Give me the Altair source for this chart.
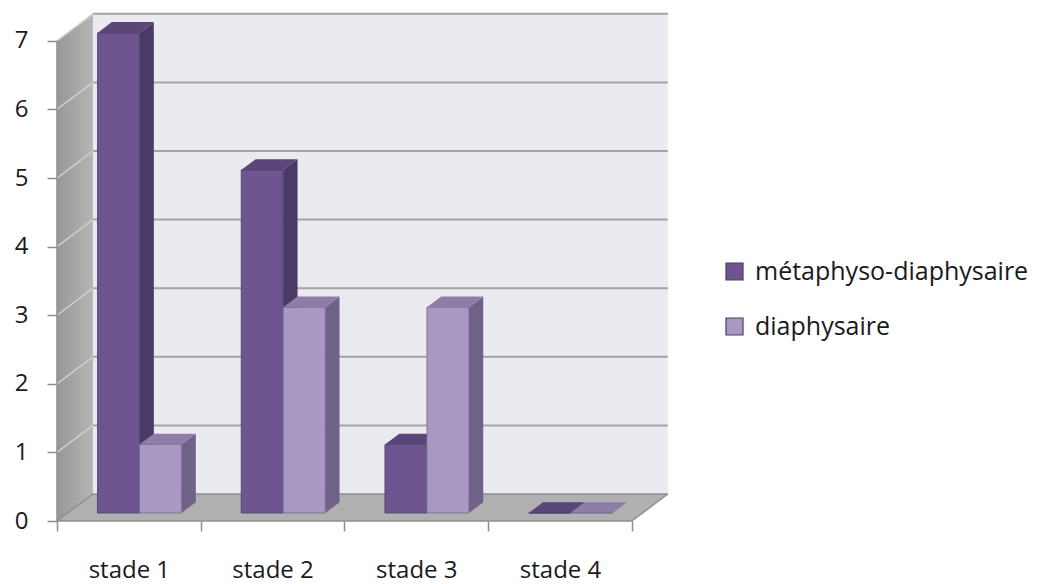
import json
import altair as alt
import pandas as pd

# ---- data ----
categories = ["stade 1", "stade 2", "stade 3", "stade 4"]
series = ["métaphyso-diaphysaire", "diaphysaire"]
met_values = [7, 5, 1, 0]
dia_values = [1, 3, 3, 0]
y_ticks = [0, 1, 2, 3, 4, 5, 6, 7]

# ---- style ----
front_colors = ["#6D5590", "#A999C2"]
side_colors = ["#4B3A64", "#6F6287"]
top_colors = ["#5B4679", "#8D7EA8"]
stroke_colors = ["#4E3C68", "#7A6C94"]
FONT = "Open Sans"
FS = 24

# pseudo-3D geometry (data units: 1 category wide on x, value units on y)
DX, DY = 0.25, 0.394      # wall depth vector
F0, F1 = 0.295, 0.695     # bar front / back depth fraction
LEFT, BW = 0.208, 0.292   # group left margin and bar width (fraction of category)
NCAT = len(categories)
YMAX = max(y_ticks)

xs = alt.Scale(domain=[0, NCAT + 0.3], nice=False, zero=False)
ys = alt.Scale(domain=[0, YMAX + 0.45], nice=False, zero=False)

cat_js = json.dumps(categories)
x_axis = alt.Axis(
    title=None, values=[i * 0.5 for i in range(2 * NCAT + 1)],
    labelExpr=f"(datum.value % 1 == 0.5) ? {cat_js}[floor(datum.value)] : ''",
    tickOpacity={"condition": {"test": "datum.value % 1 == 0", "value": 1}, "value": 0},
    domain=False, grid=False, tickSize=10, tickColor="#8C8C8C", tickWidth=1.5,
    labelFont=FONT, labelFontSize=FS, labelColor="#1a1a1a", labelPadding=27,
    labelFlush=False,
)
y_axis = alt.Axis(
    title=None, values=y_ticks, domain=False, grid=False, tickSize=10,
    tickColor="#8C8C8C", tickWidth=1.5, labelFont=FONT, labelFontSize=FS,
    labelColor="#1a1a1a", labelPadding=19,
)


def X(f):
    return alt.X(f, type="quantitative", scale=xs, axis=x_axis)


def Y(f):
    return alt.Y(f, type="quantitative", scale=ys, axis=y_axis)


# ---- walls ----
back = pd.DataFrame([{"x": DX, "x2": NCAT + DX, "y": DY, "y2": YMAX + DY}])
back_wall = alt.Chart(back).mark_rect(color="#ECEAF1").encode(
    x=X("x"), x2="x2", y=Y("y"), y2="y2")

left = pd.DataFrame([{"x": 0, "y": YMAX, "y2": 0}, {"x": DX, "y": YMAX + DY, "y2": DY}])
left_wall = alt.Chart(left).mark_area(
    color=alt.Gradient(gradient="linear", x1=0, x2=1, y1=0, y2=0,
                       stops=[alt.GradientStop(color="#979797", offset=0),
                              alt.GradientStop(color="#B5B5B5", offset=1)]),
).encode(x=X("x"), y=Y("y"), y2="y2")

floor = pd.DataFrame([{"y": 0, "x": 0, "x2": NCAT}, {"y": DY, "x": DX, "x2": NCAT + DX}])
floor_wall = alt.Chart(floor).mark_area(orient="horizontal", color="#B0B0B0").encode(
    y=Y("y"), x=X("x"), x2="x2")

grid_rows = [{"x": DX, "x2": NCAT + DX, "y": k + DY, "y2": k + DY} for k in y_ticks[1:]]
grid = alt.Chart(pd.DataFrame(grid_rows)).mark_rule(color="#A3A3A3", strokeWidth=2).encode(
    x=X("x"), x2="x2", y=Y("y"), y2="y2")

diag_rows = [{"x": 0, "x2": DX, "y": k, "y2": k + DY} for k in y_ticks[1:]]
diag = alt.Chart(pd.DataFrame(diag_rows)).mark_rule(color="#CFCFCF", strokeWidth=1.5).encode(
    x=X("x"), x2="x2", y=Y("y"), y2="y2")

edge_rows = [
    {"x": 0, "x2": NCAT, "y": 0, "y2": 0},
    {"x": NCAT, "x2": NCAT + DX, "y": 0, "y2": DY},
    {"x": 0, "x2": 0, "y": 0, "y2": YMAX},
    {"x": 0, "x2": DX, "y": 0, "y2": DY},
    {"x": DX, "x2": NCAT + DX, "y": DY, "y2": DY},
]
edges = alt.Chart(pd.DataFrame(edge_rows)).mark_rule(color="#8F8F8F", strokeWidth=1.5).encode(
    x=X("x"), x2="x2", y=Y("y"), y2="y2")

# ---- bars ----
front_rows, side_rows, top_rows = [], [], []
for i in range(NCAT):
    for s, vals in enumerate([met_values, dia_values]):
        v = vals[i]
        bid = f"{i}-{s}"
        xl = i + LEFT + s * BW + F0 * DX
        xr = xl + BW
        ddx = (F1 - F0) * DX
        front_rows.append({"x": xl, "x2": xr, "y": F0 * DY, "y2": v + F0 * DY,
                           "series": series[s], "stroke": stroke_colors[s]})
        side_rows.append({"id": bid, "x": xr, "y": v + F0 * DY, "y2": F0 * DY,
                          "fill": side_colors[s]})
        side_rows.append({"id": bid, "x": xr + ddx, "y": v + F1 * DY, "y2": F1 * DY,
                          "fill": side_colors[s]})
        top_rows.append({"id": bid, "y": v + F0 * DY, "x": xl, "x2": xr, "fill": top_colors[s]})
        top_rows.append({"id": bid, "y": v + F1 * DY, "x": xl + ddx, "x2": xr + ddx,
                         "fill": top_colors[s]})

sides = alt.Chart(pd.DataFrame(side_rows)).mark_area(opacity=1).encode(
    x=X("x"), y=Y("y"), y2="y2", detail="id:N",
    fill=alt.Fill("fill:N", scale=None))

tops = alt.Chart(pd.DataFrame(top_rows)).mark_area(orient="horizontal", opacity=1).encode(
    y=Y("y"), x=X("x"), x2="x2", detail="id:N",
    fill=alt.Fill("fill:N", scale=None))

fronts = alt.Chart(pd.DataFrame(front_rows)).mark_rect(strokeWidth=0.8).encode(
    x=X("x"), x2="x2", y=Y("y"), y2="y2",
    stroke=alt.Stroke("stroke:N", scale=None),
    color=alt.Color(
        "series:N",
        scale=alt.Scale(domain=series, range=front_colors),
        legend=alt.Legend(
            title=None, orient="none", legendX=665, legendY=249,
            symbolType="square", symbolSize=290, symbolStrokeColor="#4E3C68",
            symbolStrokeWidth=1.2, symbolOpacity=1,
            labelFont=FONT, labelFontSize=25, labelColor="#1a1a1a", labelLimit=0,
            rowPadding=29, labelOffset=8,
        ),
    ),
)

chart = alt.layer(
    back_wall, left_wall, floor_wall, grid, diag, edges, sides, tops, fronts
).properties(
    width=618, height=511,
    autosize=alt.AutoSizeParams(type="none"),
    padding={"left": 57, "top": 10, "right": 363, "bottom": 63},
    background="white",
).configure_view(stroke=None)

chart.save("out.html", embed_options={"renderer": "svg", "actions": False})
